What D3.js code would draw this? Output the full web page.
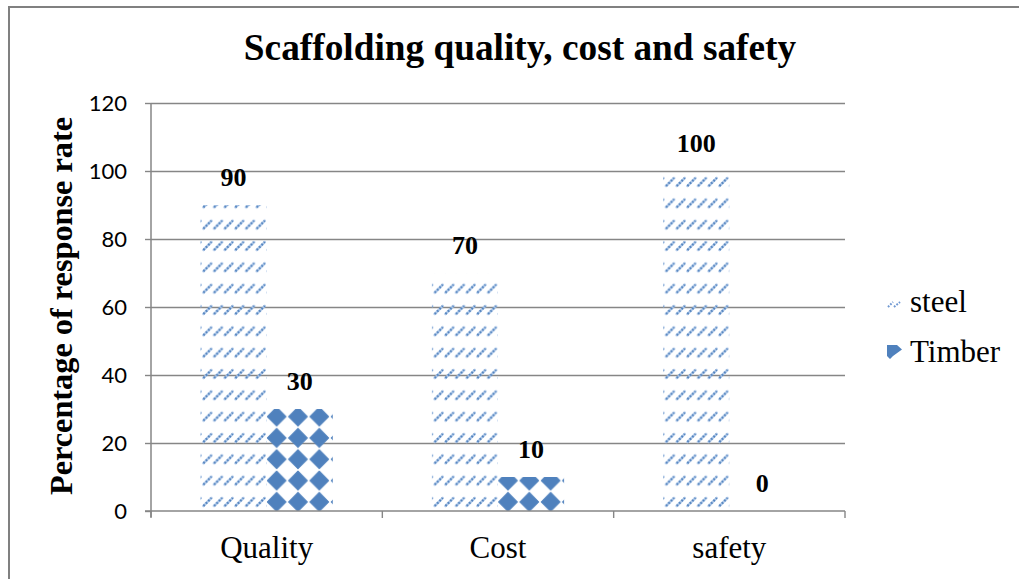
<!DOCTYPE html>
<html><head><meta charset="utf-8">
<script src="https://cdn.jsdelivr.net/npm/d3@7/dist/d3.min.js"></script>
<style>body{margin:0;background:#fff}svg{display:block}</style>
</head><body>
<svg id="c" width="1019" height="579"></svg>
<script>
const categories = ["Quality", "Cost", "safety"];
const seriesNames = ["steel", "Timber"];
const steelValues = [90, 70, 100];
const timberValues = [30, 10, 0];
const yTicks = [0, 20, 40, 60, 80, 100, 120];
const title = "Scaffolding quality, cost and safety";
const yTitle = "Percentage of response rate";

const svg = d3.select("#c");
const serif = "'Liberation Serif','Times New Roman',serif";
const tileSize = 21.33;

// frame
svg.append("rect").attr("x", 9).attr("y", 7).attr("width", 1040).attr("height", 620)
  .attr("fill", "none").attr("stroke", "#808080").attr("stroke-width", 2);

const y = d3.scaleLinear().domain([0, 120]).range([511, 103]);
const x0 = d3.scaleBand().domain(categories).range([151, 845]).paddingInner(0).paddingOuter(0);
const x1 = d3.scaleBand().domain(seriesNames).range([0, x0.bandwidth()]).paddingInner(0).paddingOuter(0.75);

// patterns
const defs = svg.append("defs");
const pSteel = defs.append("pattern").attr("id", "pSteel").attr("patternUnits", "userSpaceOnUse")
  .attr("x", 264.3).attr("y", 491.3).attr("width", tileSize).attr("height", tileSize);
[5.4, 16.1].forEach(cx => {
  const cy = 10.67;
  pSteel.append("line").attr("x1", cx - 4).attr("y1", cy + 4).attr("x2", cx + 4).attr("y2", cy - 4)
    .attr("stroke", "#b3cbeb").attr("stroke-width", 2.4).attr("stroke-linecap", "round");
  pSteel.append("line").attr("x1", cx - 4).attr("y1", cy + 4).attr("x2", cx + 4).attr("y2", cy - 4)
    .attr("stroke", "#4f81bd").attr("stroke-width", 2.2).attr("stroke-dasharray", "1.8 1.6");
});
const pTimber = defs.append("pattern").attr("id", "pTimber").attr("patternUnits", "userSpaceOnUse")
  .attr("x", 264.3).attr("y", 491.3).attr("width", tileSize).attr("height", tileSize);
pTimber.append("path").attr("d", "M10.67,1.2 L20.1,10.67 L10.67,20.1 L1.2,10.67 Z")
  .attr("fill", "#4f81bd").attr("stroke", "#4f81bd").attr("stroke-width", 1).attr("stroke-linejoin", "round");

// gridlines
svg.append("g").attr("transform", "translate(151,0)")
  .call(d3.axisLeft(y).tickValues(yTicks.slice(1)).tickSize(-694).tickFormat(""))
  .call(g => g.select(".domain").remove())
  .call(g => g.selectAll("line").attr("stroke", "#868686").attr("stroke-width", 1.4));

// bars
const rows = categories.map((c, i) => ({ cat: c, vals: [steelValues[i], timberValues[i]] }));
const groups = svg.append("g").selectAll("g").data(rows).join("g")
  .attr("transform", d => `translate(${x0(d.cat)},0)`);
groups.selectAll("rect").data(d => d.vals.map((v, j) => ({ s: seriesNames[j], v, cat: d.cat })))
  .join("rect")
  .attr("x", d => x1(d.s)).attr("width", x1.bandwidth())
  .attr("y", d => y(d.v)).attr("height", d => y(0) - y(d.v))
  .attr("fill", d => d.s === "steel" ? "url(#pSteel)" : "url(#pTimber)");

// data labels
groups.selectAll("text").data(d => d.vals.map((v, j) => ({ s: seriesNames[j], v })))
  .join("text")
  .attr("x", d => x1(d.s) + x1.bandwidth() / 2).attr("y", d => y(d.v) - 19)
  .attr("text-anchor", "middle").attr("font-family", serif).attr("font-weight", "bold")
  .attr("font-size", 26).attr("fill", "#000").text(d => d.v);

// y axis
const yAxis = svg.append("g").attr("transform", "translate(151,0)")
  .call(d3.axisLeft(y).tickValues(yTicks).tickSize(6).tickPadding(18));
yAxis.select(".domain").attr("d", "M0,103V517").attr("stroke", "#868686").attr("stroke-width", 1.5);
yAxis.selectAll("line").attr("stroke", "#868686").attr("stroke-width", 1.4);
yAxis.selectAll("text").attr("font-family", "Lato, 'Open Sans', sans-serif").attr("font-size", 22).attr("fill", "#000");

// x axis
const xAxisLine = svg.append("g").attr("transform", "translate(0,511)")
  .call(d3.axisBottom(x0).tickSize(0).tickFormat(""));
xAxisLine.select(".domain").attr("d", "M145,0H845").attr("stroke", "#868686").attr("stroke-width", 1.5);
const tickPos = categories.map(c => x0(c)).concat([x0.range()[1]]);
svg.append("g").selectAll("line").data(tickPos).join("line")
  .attr("x1", d => d).attr("x2", d => d).attr("y1", 511).attr("y2", 518)
  .attr("stroke", "#868686").attr("stroke-width", 1.4);
svg.append("g").selectAll("text").data(categories).join("text")
  .attr("x", d => x0(d) + x0.bandwidth() / 2).attr("y", 558)
  .attr("text-anchor", "middle").attr("font-family", serif).attr("font-size", 31).attr("fill", "#000")
  .text(d => d);

// title
svg.append("text").attr("x", 520).attr("y", 60).attr("text-anchor", "middle")
  .attr("font-family", serif).attr("font-weight", "bold").attr("font-size", 37.3).text(title);

// y title
svg.append("text").attr("transform", "translate(72,306) rotate(-90)").attr("text-anchor", "middle")
  .attr("font-family", serif).attr("font-weight", "bold").attr("font-size", 32.3).text(yTitle);

// legend
const leg = svg.append("g");
const legY = [312, 362];
seriesNames.forEach((s, i) => {
  leg.append("text").attr("x", 910).attr("y", legY[i]).attr("font-family", serif)
    .attr("font-size", 31).attr("fill", "#000").text(s);
});
[[888, 893], [894, 900]].forEach(([a, b]) => {
  leg.append("line").attr("x1", a).attr("y1", 307).attr("x2", b).attr("y2", 302)
    .attr("stroke", "#6f98d2").attr("stroke-width", 2).attr("stroke-dasharray", "1.8 1.4");
});
leg.append("path").attr("d", "M887,345 L897,345 L902,349.5 L893,356 L890,359 L887,356 Z").attr("fill", "#4f81bd");
</script>
</body></html>
